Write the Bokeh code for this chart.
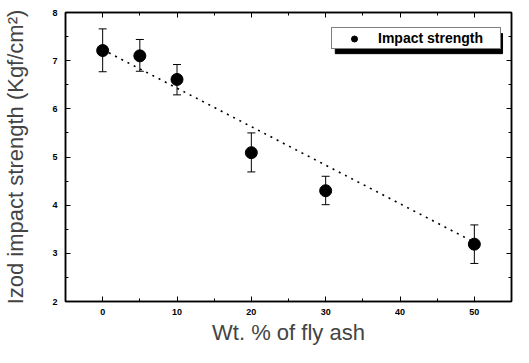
from bokeh.plotting import figure
from bokeh.models import (ColumnDataSource, Whisker, TeeHead, Legend, LegendItem,
                          LinearAxis, SingleIntervalTicker,
                          CustomJSTickFormatter, Range1d)
from bokeh.embed import file_html
from bokeh.resources import INLINE

# ---- data ----
fly_ash = [0, 5, 10, 20, 30, 50]
impact = [7.21, 7.10, 6.61, 5.09, 4.30, 3.19]
err_upper = [7.66, 7.44, 6.92, 5.50, 4.60, 3.59]
err_lower = [6.77, 6.78, 6.29, 4.69, 4.01, 2.79]
fit_x = [0, 50]
fit_y = [7.23, 3.23]
series_label = "Impact strength"
x_title = "Wt. % of fly ash"
y_title = "Izod impact strength (Kgf/cm\u00b2)"

src = ColumnDataSource(dict(x=fly_ash, y=impact, up=err_upper, lo=err_lower))

X0, X1, Y0, Y1 = -5, 55, 2, 8
p = figure(width=513, height=347, x_range=Range1d(X0, X1), y_range=Range1d(Y0, Y1),
           output_backend="svg", toolbar_location=None,
           min_border_left=63, min_border_right=2, min_border_top=12, min_border_bottom=40)
p.background_fill_color = "white"
p.border_fill_color = "white"
p.xgrid.visible = False
p.ygrid.visible = False
p.outline_line_color = "black"
p.outline_line_width = 1.5

TICK_FONT = "Liberation Sans"
LABEL_FONT = "Liberation Sans"

def style_axis(ax, interval):
    ax.ticker = SingleIntervalTicker(interval=interval, num_minor_ticks=2)
    ax.axis_line_color = "black"
    ax.axis_line_width = 1.5
    ax.major_tick_in = 5
    ax.major_tick_out = 0
    ax.minor_tick_in = 3
    ax.minor_tick_out = 0
    ax.major_tick_line_color = "black"
    ax.minor_tick_line_color = "black"
    ax.major_tick_line_width = 1
    ax.minor_tick_line_width = 1
    ax.major_label_text_font = TICK_FONT
    ax.major_label_text_font_style = "bold"
    ax.major_label_text_font_size = "9px"
    ax.major_label_text_color = "black"

xa = p.xaxis[0]
style_axis(xa, 10)
xa.major_label_standoff = 7
xa.axis_label = x_title
xa.axis_label_text_font = LABEL_FONT
xa.axis_label_text_font_size = "22px"
xa.axis_label_text_font_style = "normal"
xa.axis_label_standoff = 2

ya = p.yaxis[0]
style_axis(ya, 1)
ya.major_label_standoff = 8
ya.axis_label = y_title
ya.axis_label_text_font = LABEL_FONT
ya.axis_label_text_font_size = "22px"
ya.axis_label_text_font_style = "normal"
ya.axis_label_standoff = 21

blank = CustomJSTickFormatter(code="return ''")
top = LinearAxis(formatter=blank)
style_axis(top, 10)
top.major_label_standoff = 0
top.major_label_text_font_size = "1px"
p.add_layout(top, "above")
right = LinearAxis(formatter=blank)
style_axis(right, 1)
right.major_label_standoff = 0
right.major_label_text_font_size = "1px"
p.add_layout(right, "right")

# legend box geometry (pixels, relative to the frame)
frame_w, frame_h = 448, 288
lw, lh = 168, 20
lx, ltop = 266, 16
ly = frame_h - ltop - lh
sx = (X1 - X0) / frame_w
sy = (Y1 - Y0) / frame_h

# drop shadow of the legend box (decoration, drawn first)
p.quad(left=[X0 + (lx + 5) * sx], right=[X0 + (lx + 5 + lw) * sx],
       top=[Y1 - (ltop + 5) * sy], bottom=[Y1 - (ltop + 5 + lh) * sy],
       fill_color="black", line_color="black")

# dotted fit line
p.line(fit_x, fit_y, line_color="black", line_width=1.6, line_dash="2 5")

# error bars
w = Whisker(source=src, base="x", upper="up", lower="lo", line_color="black", line_width=1,
            upper_head=TeeHead(size=8, line_color="black", line_width=1),
            lower_head=TeeHead(size=8, line_color="black", line_width=1))
p.add_layout(w)

pts = p.scatter("x", "y", source=src, size=12, marker="circle",
                fill_color="black", line_color="black")

legend = Legend(items=[LegendItem(label=series_label, renderers=[pts])],
                location=(lx, ly), padding=2, spacing=0, margin=0,
                glyph_width=40, glyph_height=15, label_height=15, label_width=120,
                label_standoff=4,
                label_text_font=TICK_FONT, label_text_font_style="bold",
                label_text_font_size="14px", label_text_color="black",
                border_line_color="black", border_line_width=1,
                background_fill_color="white", background_fill_alpha=1.0)
p.add_layout(legend)

open("out.html", "w").write(file_html(p, INLINE))
